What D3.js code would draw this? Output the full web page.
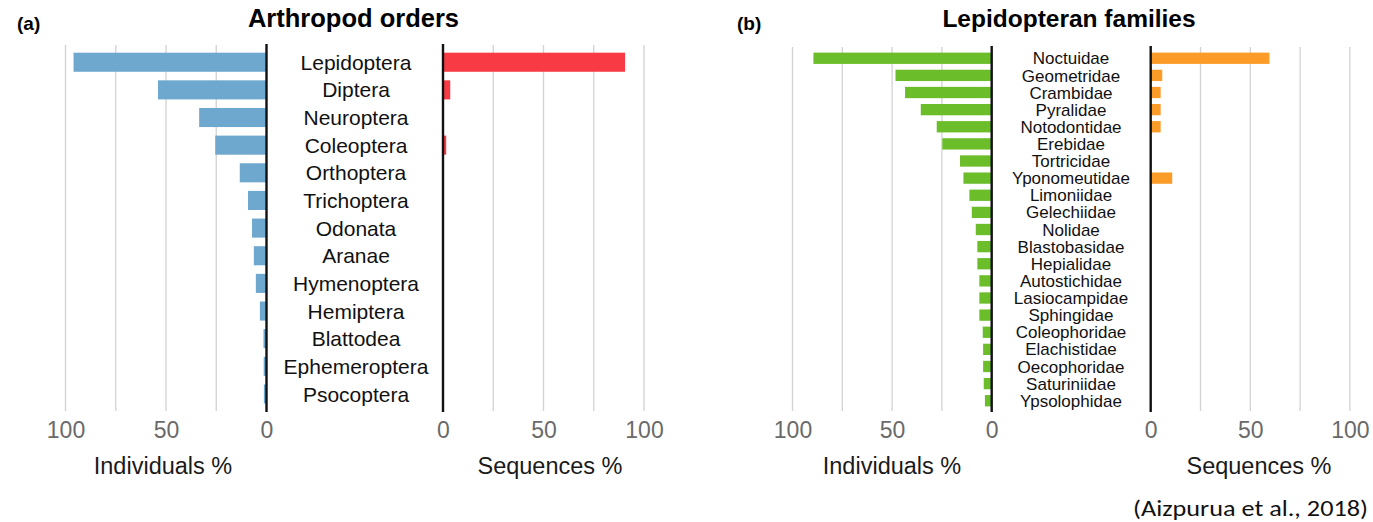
<!DOCTYPE html>
<html>
<head>
<meta charset="utf-8">
<script src="https://cdn.jsdelivr.net/npm/d3@7"></script>
<style>
  body { margin: 0; background: #fff; }
  svg { display: block; font-family: "Liberation Sans", Arial, sans-serif; }
</style>
</head>
<body>
<script>
// panel (a) arthropod orders
var orders = ["Lepidoptera", "Diptera", "Neuroptera", "Coleoptera", "Orthoptera", "Trichoptera",
  "Odonata", "Aranae", "Hymenoptera", "Hemiptera", "Blattodea", "Ephemeroptera", "Psocoptera"];
var ordersIndividuals = [96, 54, 33.5, 25.5, 13.3, 9.2, 7.2, 6.3, 5.3, 3.3, 1.5, 1.4, 1.3];
var ordersSequences = [90.6, 3.6, 0, 1.6, 0, 0, 0, 0, 0, 0, 0, 0, 0];

// panel (b) lepidopteran families
var families = ["Noctuidae", "Geometridae", "Crambidae", "Pyralidae", "Notodontidae", "Erebidae",
  "Tortricidae", "Yponomeutidae", "Limoniidae", "Gelechiidae", "Nolidae", "Blastobasidae",
  "Hepialidae", "Autostichidae", "Lasiocampidae", "Sphingidae", "Coleophoridae", "Elachistidae",
  "Oecophoridae", "Saturiniidae", "Ypsolophidae"];
var familiesIndividuals = [89.5, 48.3, 43.5, 35.6, 27.6, 24.8, 15.9, 14.2, 11.2, 10, 8,
  7.2, 7.2, 6.2, 6.2, 6.2, 4.5, 4.3, 4.3, 4, 3.4];
var familiesSequences = [59.6, 5.8, 5, 5, 5, 0, 0, 10.8, 0, 0, 0, 0, 0, 0, 0, 0, 0, 0, 0, 0, 0];

var tickValues = [0, 50, 100];
var gridValues = [25, 50, 75, 100];

var svg = d3.select("body").append("svg")
    .attr("width", 1373)
    .attr("height", 522);

function drawPanel(p) {
    var g = svg.append("g");
    var xl = d3.scaleLinear().domain([0, 100]).range([p.zeroL, p.zeroL - p.span]);
    var xr = d3.scaleLinear().domain([0, 100]).range([p.zeroR, p.zeroR + p.span]);
    var y = d3.scaleBand().domain(p.cats).range(p.yRange)
        .paddingInner(p.pad).paddingOuter(p.pad / 2);

    // gridlines
    [xl, xr].forEach(function(sc) {
        g.selectAll(null).data(gridValues).enter().append("line")
            .attr("x1", function(d) { return sc(d); })
            .attr("x2", function(d) { return sc(d); })
            .attr("y1", p.gridTop)
            .attr("y2", 411)
            .attr("stroke", "#d2d2d2")
            .attr("stroke-width", 1.3);
    });

    g.selectAll(null).data(p.left).enter().append("rect")
        .attr("x", function(d) { return xl(d); })
        .attr("y", function(d, i) { return y(p.cats[i]); })
        .attr("width", function(d) { return xl(0) - xl(d); })
        .attr("height", y.bandwidth())
        .attr("fill", p.colL);

    g.selectAll(null).data(p.right).enter().append("rect")
        .attr("x", xr(0))
        .attr("y", function(d, i) { return y(p.cats[i]); })
        .attr("width", function(d) { return xr(d) - xr(0); })
        .attr("height", y.bandwidth())
        .attr("fill", p.colR);

    // zero lines
    [p.zeroL, p.zeroR].forEach(function(x0) {
        g.append("line")
            .attr("x1", x0).attr("x2", x0)
            .attr("y1", p.gridTop - 1).attr("y2", 412)
            .attr("stroke", "#111")
            .attr("stroke-width", 2.4);
    });

    // category labels
    g.selectAll(null).data(p.cats).enter().append("text")
        .attr("x", p.labelX)
        .attr("y", function(d) { return y(d) + y.bandwidth() / 2; })
        .attr("dy", "0.36em")
        .attr("text-anchor", "middle")
        .attr("font-size", p.labelSize)
        .attr("fill", "#111")
        .text(function(d) { return d; });

    // axes
    [xl, xr].forEach(function(sc) {
        var ax = g.append("g")
            .attr("transform", "translate(0,422)")
            .call(d3.axisBottom(sc).tickValues(tickValues).tickSize(0).tickPadding(0));
        ax.select(".domain").remove();
        ax.selectAll("text")
            .attr("font-size", 23)
            .attr("font-family", "Liberation Sans, Arial, sans-serif")
            .attr("fill", "#6a6a6a");
    });

    g.append("text")
        .attr("x", p.titleLX).attr("y", 474)
        .attr("text-anchor", "middle")
        .attr("font-size", 23.5)
        .attr("fill", "#1a1a1a")
        .text("Individuals %");
    g.append("text")
        .attr("x", p.titleRX).attr("y", 474)
        .attr("text-anchor", "middle")
        .attr("font-size", 23.5)
        .attr("fill", "#1a1a1a")
        .text("Sequences %");

    g.append("text")
        .attr("x", p.titleX).attr("y", 27)
        .attr("text-anchor", "middle")
        .attr("font-size", p.titleSize)
        .attr("font-weight", "bold")
        .attr("fill", "#000")
        .text(p.title);
    g.append("text")
        .attr("x", p.tagX).attr("y", 30)
        .attr("font-size", 19)
        .attr("font-weight", "bold")
        .attr("fill", "#000")
        .text(p.tag);
}

drawPanel({
    cats: orders, left: ordersIndividuals, right: ordersSequences,
    zeroL: 266.5, zeroR: 443, span: 201,
    yRange: [48.4, 407.8], pad: 0.31, gridTop: 45,
    colL: "#6fa8cf", colR: "#f73a44",
    labelX: 356, labelSize: 21,
    titleLX: 163, titleRX: 550, titleX: 353.5, titleSize: 25.5, title: "Arthropod orders",
    tagX: 17, tag: "(a)"
});

drawPanel({
    cats: families, left: familiesIndividuals, right: familiesSequences,
    zeroL: 991.7, zeroR: 1150.7, span: 199.2,
    yRange: [49.7, 409.3], pad: 0.34, gridTop: 47,
    colL: "#6bbd2a", colR: "#fb9c28",
    labelX: 1071, labelSize: 17,
    titleLX: 892, titleRX: 1259, titleX: 1069, titleSize: 24.5, title: "Lepidopteran families",
    tagX: 737, tag: "(b)"
});

svg.append("text")
    .attr("x", 1368).attr("y", 516)
    .attr("text-anchor", "end")
    .attr("font-family", "Carlito, Calibri, 'Open Sans', sans-serif")
    .attr("font-size", 23)
    .attr("textLength", 235)
    .attr("lengthAdjust", "spacingAndGlyphs")
    .attr("fill", "#111")
    .text("(Aizpurua et al., 2018)");
</script>
</body>
</html>
